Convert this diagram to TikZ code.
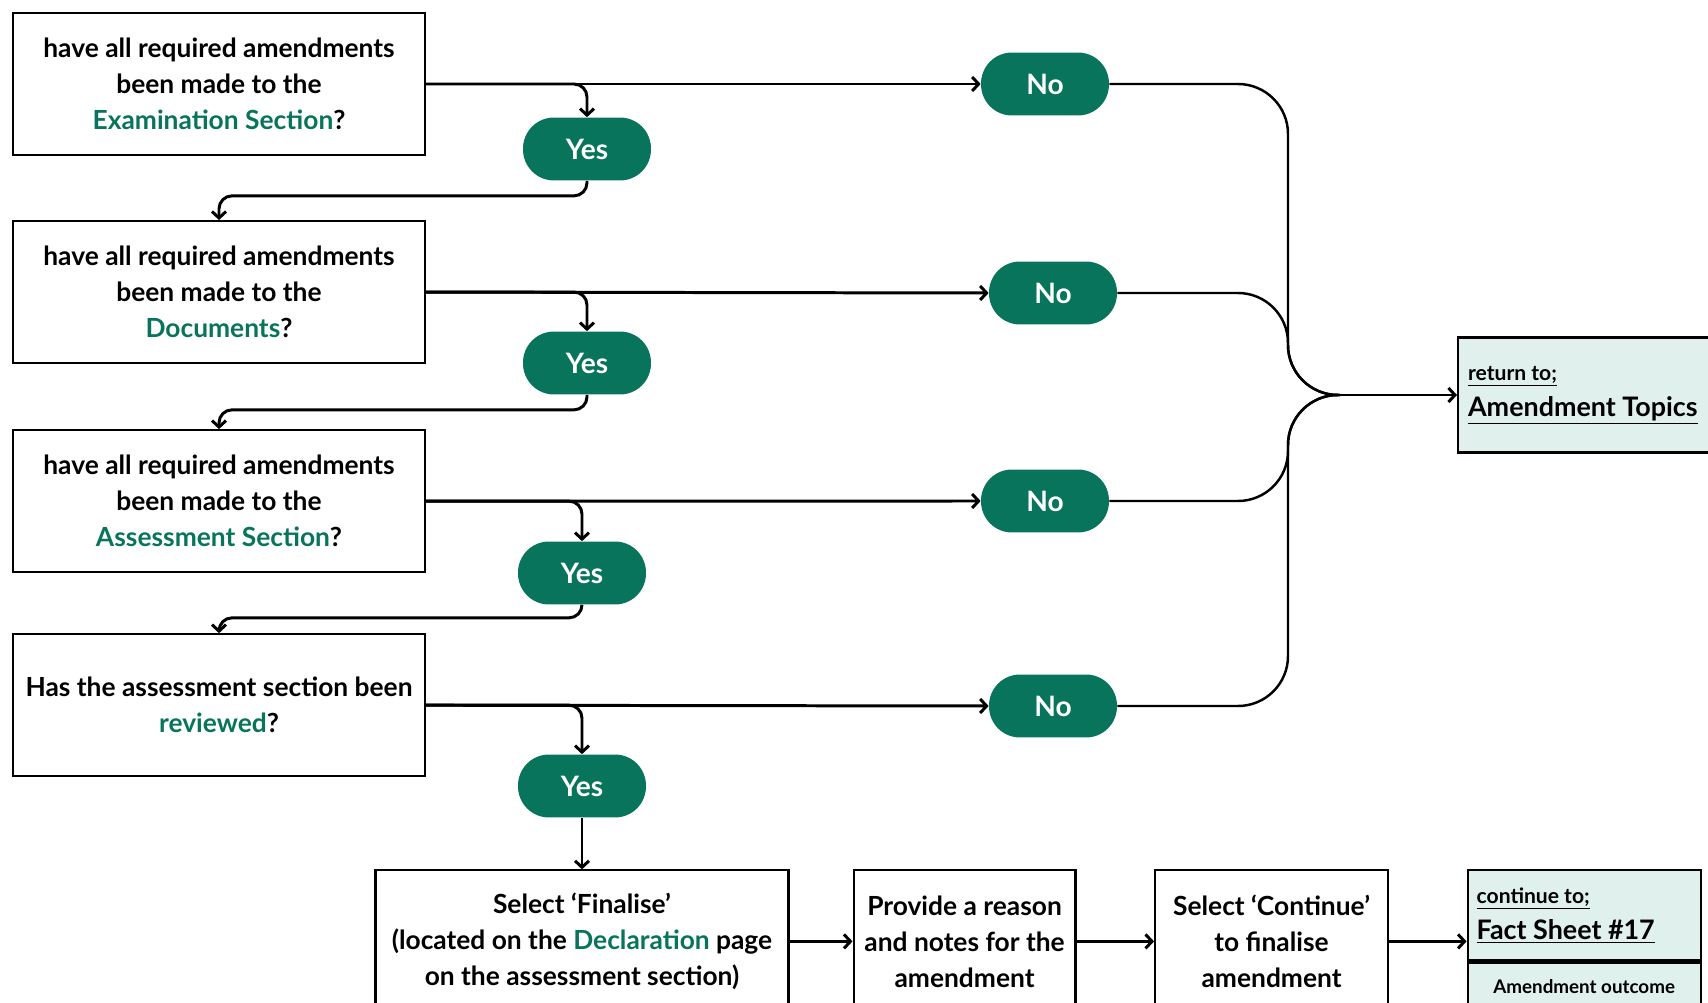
\documentclass[tikz,border=0pt]{standalone}
\usepackage{fontspec}
\setmainfont{Lato}
\usetikzlibrary{positioning,arrows.meta}

\definecolor{dgreen}{RGB}{8,116,92}
\definecolor{paleteal}{RGB}{224,241,237}

\begin{document}
\begin{tikzpicture}[x=0.02cm, y=-0.02cm, >={Straight Barb[length=1.3mm,width=2.8mm]},
  every node/.style={font=\bfseries\fontsize{15}{20.5}\selectfont},
  qbox/.style={draw, line width=1.2pt, minimum width=8.24cm, minimum height=2.84cm, align=center, inner sep=2pt},
  stepbox/.style={draw, line width=1.2pt, minimum height=2.84cm, align=center, inner sep=2pt},
  pill/.style={fill=dgreen, text=white, rounded corners=0.62cm, minimum width=2.56cm, minimum height=1.26cm, font=\bfseries\fontsize{16}{19}\selectfont},
  linkbox/.style={draw, line width=1.2pt, fill=paleteal, align=flush left},
  arr/.style={->, line width=1.7pt, rounded corners=0.26cm},
  feed/.style={line width=1.4pt, rounded corners=1cm}]
  \useasboundingbox (0,0) rectangle (1708,1003);

  % questions down the left
  \node[qbox] (exam) at (219,84) {have all required amendments\\been made to the\\\textcolor{dgreen}{Examination Section}?};
  \node[qbox, below=1.28cm of exam] (docs) {have all required amendments\\been made to the\\\textcolor{dgreen}{Documents}?};
  \node[qbox, below=1.3cm of docs] (assess) {have all required amendments\\been made to the\\\textcolor{dgreen}{Assessment Section}?};
  \node[qbox, below=1.2cm of assess] (review) {Has the assessment section been\\\textcolor{dgreen}{reviewed}?};

  % answers
  \node[pill] (yes1) at (587,149) {Yes};
  \node[pill] (yes2) at (587,363) {Yes};
  \node[pill] (yes3) at (582,573) {Yes};
  \node[pill] (yes4) at (582,786) {Yes};
  \node[pill] (no1) at (1045,84) {No};
  \node[pill] (no2) at (1053,293) {No};
  \node[pill] (no3) at (1045,501) {No};
  \node[pill] (no4) at (1053,706) {No};

  \node[linkbox, anchor=west, minimum width=5.4cm, minimum height=2.3cm, inner sep=0.2cm, text width=5cm] (ret) at (1457,395)
    {\fontsize{12}{15}\selectfont\underline{return to;}\\\fontsize{15.3}{22}\selectfont\underline{Amendment Topics}};

  % last steps
  \node[stepbox, minimum width=8.26cm, below=1.03cm of yes4] (final) {Select ‘Finalise’\\(located on the \textcolor{dgreen}{Declaration} page\\on the assessment section)};
  \node[stepbox, minimum width=4.44cm, right=1.26cm of final] (reason) {Provide a reason\\and notes for the\\amendment};
  \node[stepbox, minimum width=4.66cm, right=1.55cm of reason] (cont) {Select ‘Continue’\\to finalise\\amendment};
  \node[linkbox, minimum width=4.66cm, minimum height=1.8cm, inner sep=0.18cm, text width=4.3cm, right=1.55cm of cont.north east, anchor=north west] (fact)
    {\fontsize{12}{15}\selectfont\underline{continue to;}\\\fontsize{15.3}{22}\selectfont\underline{Fact Sheet \#17}};
  \node[draw, line width=1.2pt, fill=paleteal, minimum width=4.66cm, minimum height=0.96cm, below=0pt of fact, font=\bfseries\fontsize{10.7}{13}\selectfont] (outcome) {Amendment outcome};

  % question -> answers
  \foreach \q/\y/\n in {exam/yes1/no1, docs/yes2/no2, assess/yes3/no3, review/yes4/no4} {
    \draw[arr] (\q.east) -- (\n.west);
    \draw[arr] (\q.east) -| (\y.north);
  }
  \draw[arr] (yes1.south) -- ++(0,15) -| (docs.north);
  \draw[arr] (yes2.south) -- ++(0,15) -| (assess.north);
  \draw[arr] (yes3.south) -- ++(0,13) -| (review.north);
  \draw[arr] (yes4) -- (final);

  % every No goes back
  \coordinate (hub) at (1288,395);
  \coordinate (mrg) at (1340,395);
  \foreach \n in {no1,no2,no3,no4}
    \draw[feed] (\n.east) -| (hub) -- (mrg);
  \draw[arr] (mrg) -- (ret.west);

  \draw[arr] (final) -- (reason);
  \draw[arr] (reason) -- (cont);
  \draw[arr] (cont.east) -- (cont.east -| fact.west);
\end{tikzpicture}
\end{document}
